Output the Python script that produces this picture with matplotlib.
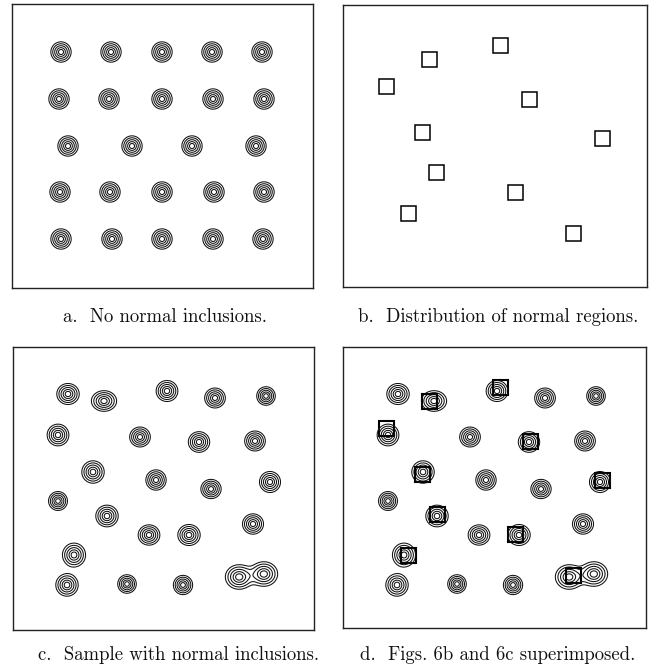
import numpy as np
import matplotlib
matplotlib.use("Agg")
import matplotlib.pyplot as plt
from matplotlib.patches import Rectangle

# ---- data (panel coordinates, origin top-left of each frame) ----
# panel a: regular grid of inclusions
a_x = [49, 99, 150, 200, 250,
       47, 97, 150, 201, 252,
       56, 120, 180, 244,
       48, 98, 150, 202, 252,
       49, 100, 150, 201, 251]
a_y = [48, 48, 48, 48, 48,
       95, 95, 95, 95, 95,
       142, 142, 142, 142,
       188, 188, 188, 188, 188,
       235, 235, 235, 235, 235]

# panel b: normal regions (squares)
sq_x = [158, 86, 43, 187, 79, 260, 94, 173, 65, 231]
sq_y = [40, 54, 81, 94, 127, 133, 167, 187, 208, 228]

# panel c: sample with normal inclusions
c_x = [55, 91, 154, 202, 253,
       45, 127, 186, 242,
       80, 143, 198, 257,
       45, 94, 136, 176, 240,
       61, 54, 114, 170, 226, 251]
c_y = [47, 54, 44, 51, 49,
       88, 90, 95, 94,
       125, 133, 142, 135,
       154, 169, 188, 188, 177,
       208, 238, 237, 238, 230, 227]
c_sx = [6.4, 7.2, 6.2, 5.9, 5.3,
        6.2, 5.9, 6.1, 5.9,
        6.4, 5.8, 5.8, 6.0,
        5.4, 6.4, 6.2, 6.4, 6.0,
        6.6, 6.4, 5.3, 5.5, 7.8, 7.8]
c_sy = [6.0, 5.9, 6.0, 5.7, 5.3,
        6.2, 5.7, 5.9, 5.7,
        6.4, 5.8, 5.5, 6.0,
        5.4, 6.2, 5.8, 6.0, 5.8,
        6.8, 6.4, 5.3, 5.5, 7.0, 7.0]

captions = ["a.  No normal inclusions.",
            "b.  Distribution of normal regions.",
            "c.  Sample with normal inclusions.",
            "d.  Figs. 6b and 6c superimposed."]

# ---- figure ----
W, H = 668, 666
fig = plt.figure(figsize=(W / 100, H / 100), dpi=100)
fig.patch.set_facecolor("white")

frames = {  # pixel boxes: x0, y0, x1, y1
    "a": (12, 4, 313, 288),
    "b": (343, 5, 647, 287),
    "c": (13, 347, 314, 630),
    "d": (343, 347, 646, 628),
}

def make_ax(key):
    x0, y0, x1, y1 = frames[key]
    ax = fig.add_axes([x0 / W, 1 - y1 / H, (x1 - x0) / W, (y1 - y0) / H])
    ax.set_xlim(0, x1 - x0)
    ax.set_ylim(y1 - y0, 0)
    ax.set_xticks([])
    ax.set_yticks([])
    for s in ax.spines.values():
        s.set_linewidth(1.0)
        s.set_color("#222222")
    return ax

ring_r = np.array([10.5, 8.5, 6.5, 4.5, 2.6])  # ring radii for sigma = 6
levels = np.sort(np.exp(-ring_r ** 2 / 72.0))

def field(ax, xs, ys, sxs, sys_):
    x1 = ax.get_xlim()[1]
    y1 = ax.get_ylim()[0]
    gx = np.linspace(0, x1, 900)
    gy = np.linspace(0, y1, 900)
    X, Y = np.meshgrid(gx, gy)
    Z = np.zeros_like(X)
    for x, y, sx, sy in zip(xs, ys, sxs, sys_):
        Z += np.exp(-((X - x) ** 2) / (2 * sx ** 2)
                    - ((Y - y) ** 2) / (2 * sy ** 2))
    return X, Y, Z

def contours(ax, xs, ys, sxs, sys_):
    X, Y, Z = field(ax, xs, ys, sxs, sys_)
    ax.contour(X, Y, Z, levels=levels, colors="#111111", linewidths=0.75)

def squares(ax, lw):
    side = 15
    for x, y in zip(sq_x, sq_y):
        ax.add_patch(Rectangle((x - side / 2, y - side / 2), side, side,
                               fill=False, edgecolor="black", linewidth=lw))

ax_a = make_ax("a")
contours(ax_a, a_x, a_y, [5.8] * len(a_x), [5.8] * len(a_y))

ax_b = make_ax("b")
squares(ax_b, 1.1)

ax_c = make_ax("c")
contours(ax_c, c_x, c_y, c_sx, c_sy)

ax_d = make_ax("d")
contours(ax_d, c_x, c_y, c_sx, c_sy)
squares(ax_d, 1.5)

cap_pos = [(165, 317), (498, 317), (179, 655), (498, 655)]
for (x, y), t in zip(cap_pos, captions):
    fig.text(x / W, 1 - y / H, t, ha="center", va="center",
             fontsize=13.5, family="cmr10", color="#111111")

fig.savefig("out.png", dpi=100, facecolor="white")
